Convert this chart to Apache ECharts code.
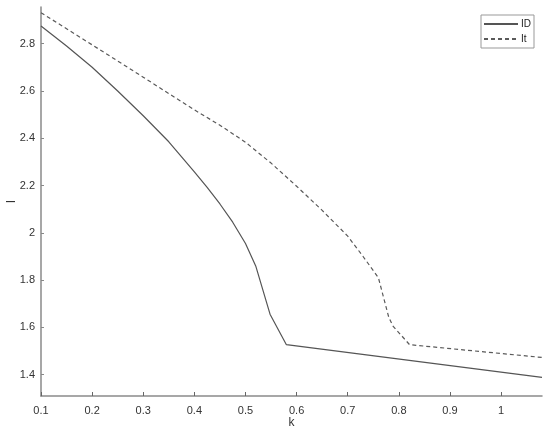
<!DOCTYPE html>
<html>
<head>
<meta charset="utf-8">
<script src="https://cdn.jsdelivr.net/npm/echarts@6/dist/echarts.min.js"></script>
<style>
html,body{margin:0;padding:0;background:#fff;}
#c{width:550px;height:438px;}
</style>
</head>
<body>
<div id="c"></div>
<script>
var kID = [0.1, 0.15, 0.2, 0.25, 0.3, 0.35, 0.4, 0.425, 0.45, 0.475, 0.5, 0.52, 0.548, 0.58, 1.08];
var ID  = [2.875, 2.79, 2.70, 2.60, 2.495, 2.385, 2.258, 2.192, 2.122, 2.045, 1.955, 1.86, 1.656, 1.527, 1.389];
var kIt = [0.1, 0.2, 0.3, 0.4, 0.45, 0.5, 0.55, 0.6, 0.65, 0.7, 0.73, 0.76, 0.78, 0.788, 0.821, 1.08];
var It  = [2.931, 2.795, 2.658, 2.52, 2.455, 2.383, 2.295, 2.197, 2.095, 1.986, 1.9, 1.81, 1.645, 1.607, 1.527, 1.473];
var xTicks = [0.1, 0.2, 0.3, 0.4, 0.5, 0.6, 0.7, 0.8, 0.9, 1];
var yTicks = [1.4, 1.6, 1.8, 2, 2.2, 2.4, 2.6, 2.8];

function pairs(xs, ys){ return xs.map(function(x,i){ return [x, ys[i]]; }); }

var chart = echarts.init(document.getElementById('c'), null, {renderer:'canvas'});
var axisCol = '#8a8a8a';
var fam = 'Liberation Sans, Arial, sans-serif';
chart.setOption({
  animation:false,
  backgroundColor:'#fff',
  grid:{left:41, right:8, top:7, bottom:42, containLabel:false, outerBoundsMode:'none'},
  legend:{
    right:16, top:15, orient:'vertical',
    data:['ID','It'],
    itemWidth:34, itemHeight:10, itemGap:5,
    padding:[4,3,4,2],
    borderColor:'#999', borderWidth:1,
    itemStyle:{opacity:0},
    textStyle:{color:'#222', fontSize:10, fontFamily:fam, padding:[0,0,0,-2]}
  },
  xAxis:{
    type:'value', min:0.1, max:1.08,
    name:'k', nameLocation:'middle', nameGap:21, nameMoveOverlap:false,
    nameTextStyle:{color:'#333', fontSize:12, fontFamily:fam},
    axisLine:{show:true, onZero:false, lineStyle:{color:axisCol, width:1.5}},
    axisTick:{show:true, inside:true, length:4, customValues:xTicks, lineStyle:{color:'#666'}},
    axisLabel:{customValues:xTicks, margin:9, color:'#333', fontSize:11, fontFamily:fam},
    splitLine:{show:false}
  },
  yAxis:{
    type:'value', min:1.31, max:2.955,
    name:'I', nameLocation:'middle', nameGap:23, nameMoveOverlap:false,
    nameTextStyle:{color:'#333', fontSize:12, fontFamily:fam},
    axisLine:{show:true, onZero:false, lineStyle:{color:axisCol, width:1.5}},
    axisTick:{show:true, inside:true, length:3, customValues:yTicks, lineStyle:{color:'#888'}},
    axisLabel:{customValues:yTicks, margin:6, color:'#333', fontSize:11, fontFamily:fam},
    splitLine:{show:false}
  },
  series:[
    {name:'ID', type:'line', data:pairs(kID, ID), symbol:'none', showSymbol:false, smooth:false,
     lineStyle:{color:'#555', width:1.2, type:'solid'}, itemStyle:{color:'#555'}},
    {name:'It', type:'line', data:pairs(kIt, It), symbol:'none', showSymbol:false, smooth:false,
     lineStyle:{color:'#5a5a5a', width:1.2, type:[4,3]}, itemStyle:{color:'#5a5a5a'}}
  ]
});
</script>
</body>
</html>
